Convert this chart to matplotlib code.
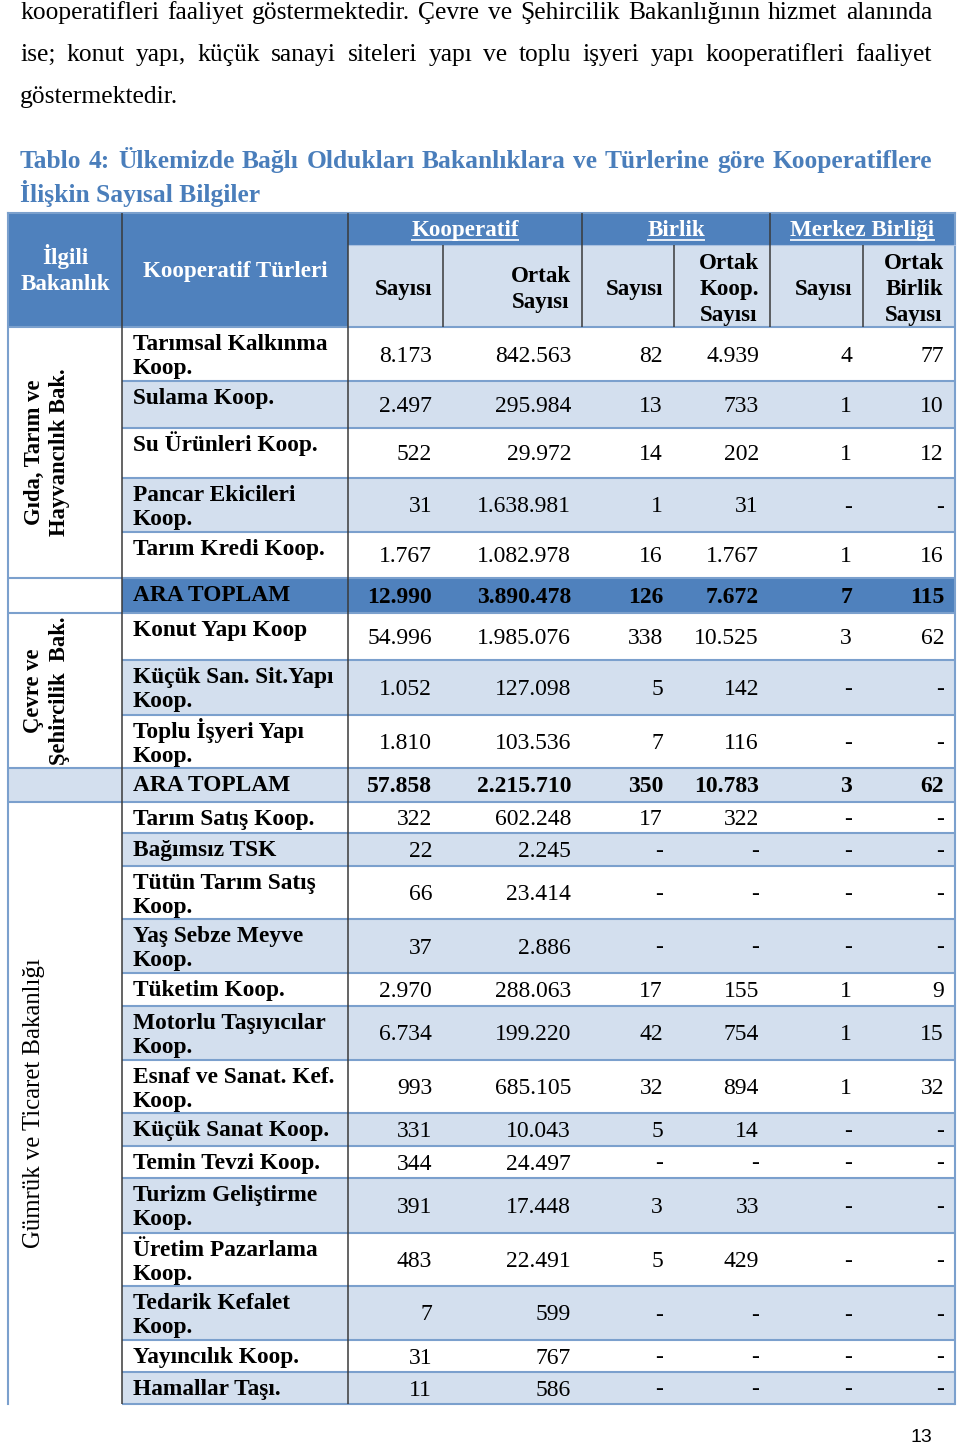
import matplotlib
matplotlib.use("Agg")
import matplotlib.pyplot as plt
from matplotlib.patches import Rectangle

# ------------------------------------------------------------------ data
intro_lines = [
    "kooperatifleri faaliyet göstermektedir. Çevre ve Şehircilik Bakanlığının hizmet alanında",
    "ise; konut yapı, küçük sanayi siteleri yapı ve toplu işyeri yapı kooperatifleri faaliyet",
    "göstermektedir.",
]
title_lines = [
    "Tablo 4: Ülkemizde Bağlı Oldukları Bakanlıklara ve Türlerine göre Kooperatiflere",
    "İlişkin Sayısal Bilgiler",
]
corner_headers = ["İlgili\nBakanlık", "Kooperatif Türleri"]
group_headers = ["Kooperatif", "Birlik", "Merkez Birliği"]
sub_headers = ["Sayısı", "Ortak\nSayısı", "Sayısı", "Ortak\nKoop.\nSayısı",
               "Sayısı", "Ortak\nBirlik\nSayısı"]
ministries = ["Gıda, Tarım ve\nHayvancılık Bak.",
              "Çevre ve\nŞehircilik  Bak.",
              "Gümrük ve Ticaret Bakanlığı"]

row_labels = [
    "Tarımsal Kalkınma\nKoop.", "Sulama Koop.", "Su Ürünleri Koop.",
    "Pancar Ekicileri\nKoop.", "Tarım Kredi Koop.", "ARA TOPLAM",
    "Konut Yapı Koop", "Küçük San. Sit.Yapı\nKoop.", "Toplu İşyeri Yapı\nKoop.",
    "ARA TOPLAM",
    "Tarım Satış Koop.", "Bağımsız TSK", "Tütün Tarım Satış\nKoop.",
    "Yaş Sebze Meyve\nKoop.", "Tüketim Koop.", "Motorlu Taşıyıcılar\nKoop.",
    "Esnaf ve Sanat. Kef.\nKoop.", "Küçük Sanat Koop.", "Temin Tevzi Koop.",
    "Turizm Geliştirme\nKoop.", "Üretim Pazarlama\nKoop.", "Tedarik Kefalet\nKoop.",
    "Yayıncılık Koop.", "Hamallar Taşı.",
]
koop_sayisi = ["8.173", "2.497", "522", "31", "1.767", "12.990",
               "54.996", "1.052", "1.810", "57.858",
               "322", "22", "66", "37", "2.970", "6.734", "993", "331", "344",
               "391", "483", "7", "31", "11"]
koop_ortak = ["842.563", "295.984", "29.972", "1.638.981", "1.082.978", "3.890.478",
              "1.985.076", "127.098", "103.536", "2.215.710",
              "602.248", "2.245", "23.414", "2.886", "288.063", "199.220", "685.105",
              "10.043", "24.497", "17.448", "22.491", "599", "767", "586"]
birlik_sayisi = ["82", "13", "14", "1", "16", "126",
                 "338", "5", "7", "350",
                 "17", "-", "-", "-", "17", "42", "32", "5", "-", "3", "5", "-", "-", "-"]
birlik_ortak = ["4.939", "733", "202", "31", "1.767", "7.672",
                "10.525", "142", "116", "10.783",
                "322", "-", "-", "-", "155", "754", "894", "14", "-", "33", "429", "-", "-", "-"]
merkez_sayisi = ["4", "1", "1", "-", "1", "7",
                 "3", "-", "-", "3",
                 "-", "-", "-", "-", "1", "1", "1", "-", "-", "-", "-", "-", "-", "-"]
merkez_ortak = ["77", "10", "12", "-", "16", "115",
                "62", "-", "-", "62",
                "-", "-", "-", "-", "9", "15", "32", "-", "-", "-", "-", "-", "-", "-"]
ministry_rows = [(0, 5), (6, 9), (10, 24)]   # row ranges of each ministry
subtotal_rows = [5, 9]
page_number = "13"

# ------------------------------------------------------------------ layout / style
W, H = 960, 1446
DARK = "#4F81BD"
LIGHT = "#D3DFEE"
GRID = "#7BA0CD"
VLINE = "#3A3A3A"
TITLE_C = "#4A7EBB"
SERIF = "Liberation Serif"

col_x = [8, 122, 348, 443, 582, 674, 770, 863, 955]
row_y = [327, 381, 428, 478, 532, 578, 613, 660, 715, 768, 802, 833, 866, 919,
         973, 1006, 1060, 1113, 1146, 1178, 1233, 1286, 1340, 1372, 1404]
hdr_top, hdr_mid, hdr_bot = 213, 245, 327
row_fill = ["W", "L", "W", "L", "W", "D", "W", "L", "W", "L",
            "W", "L", "W", "L", "W", "L", "W", "L", "W", "L", "W", "L", "W", "L"]
sub_col0_fill = {5: "W", 9: "L"}
FILL = {"W": "white", "L": LIGHT, "D": DARK}

fig = plt.figure(figsize=(W / 100, H / 100), dpi=100)
ax = fig.add_axes([0, 0, 1, 1])
ax.set_xlim(0, W)
ax.set_ylim(H, 0)
ax.axis("off")
renderer = fig.canvas.get_renderer()


def text_width(t):
    return t.get_window_extent(renderer=renderer).width


def justified(line, x0, x1, y, **kw):
    words = line.split(" ")
    arts = [ax.text(0, y, w, va="baseline", ha="left", **kw) for w in words]
    widths = [text_width(a) for a in arts]
    gap = (x1 - x0 - sum(widths)) / max(len(words) - 1, 1)
    x = x0
    for a, w in zip(arts, widths):
        a.set_x(x)
        x += w + gap


# ------------------------------------------------------------------ intro text
body_kw = dict(fontsize=18.4, family=SERIF, color="black")
for i, line in enumerate(intro_lines):
    yb = 19 + 42 * i
    if i < len(intro_lines) - 1:
        justified(line, 20, 932, yb, **body_kw)
    else:
        ax.text(20, yb, line, va="baseline", ha="left", **body_kw)

title_kw = dict(fontsize=18.4, family=SERIF, weight="bold", color=TITLE_C)
justified(title_lines[0], 20, 932, 168, **title_kw)
ax.text(20, 202, title_lines[1], va="baseline", ha="left", **title_kw)

# ------------------------------------------------------------------ header
ax.add_patch(Rectangle((col_x[0], hdr_top), col_x[2] - col_x[0], hdr_bot - hdr_top,
                       facecolor=DARK, edgecolor="none"))
ax.add_patch(Rectangle((col_x[2], hdr_top), col_x[8] - col_x[2], hdr_mid - hdr_top,
                       facecolor=DARK, edgecolor="none"))
ax.add_patch(Rectangle((col_x[2], hdr_mid), col_x[8] - col_x[2], hdr_bot - hdr_mid,
                       facecolor=LIGHT, edgecolor="none"))

hdr_kw = dict(fontsize=16.6, family=SERIF, weight="bold")
l0 = corner_headers[0].split("\n")
ax.text(65, 264, l0[0], ha="center", va="baseline", color="white", **hdr_kw)
ax.text(65, 290, l0[1], ha="center", va="baseline", color="white", **hdr_kw)
ax.text(235, 277, corner_headers[1], ha="center", va="baseline", color="white", **hdr_kw)

for g, name in enumerate(group_headers):
    xa, xb = col_x[2 + 2 * g], col_x[4 + 2 * g]
    t = ax.text((xa + xb) / 2, 236, name, ha="center", va="baseline", color="white", **hdr_kw)
    bb = t.get_window_extent(renderer=renderer)
    ax.plot([bb.x0, bb.x1], [239.5, 239.5], color="white", lw=1.2, solid_capstyle="butt")

for c, name in enumerate(sub_headers):
    xr = col_x[3 + c] - 11
    lines = name.split("\n")
    arts = [ax.text(0, 0, ln, ha="center", va="baseline", color="black", **hdr_kw)
            for ln in lines]
    maxw = max(text_width(a) for a in arts)
    centers = {1: [288], 2: [275, 301], 3: [262, 288, 314]}[len(lines)]
    for a, yc in zip(arts, centers):
        a.set_position((xr - maxw / 2, yc + 7))

# ------------------------------------------------------------------ body fills
for i in range(len(row_labels)):
    y0, y1 = row_y[i], row_y[i + 1]
    ax.add_patch(Rectangle((col_x[1], y0), col_x[8] - col_x[1], y1 - y0,
                           facecolor=FILL[row_fill[i]], edgecolor="none"))
    if i in sub_col0_fill:
        ax.add_patch(Rectangle((col_x[0], y0), col_x[1] - col_x[0], y1 - y0,
                               facecolor=FILL[sub_col0_fill[i]], edgecolor="none"))

# ------------------------------------------------------------------ grid lines
lw_grid = 1.5
for y in row_y:
    ax.plot([col_x[1], col_x[8]], [y, y], color=GRID, lw=lw_grid, solid_capstyle="butt")
for y in [hdr_bot, row_y[5], row_y[6], row_y[9], row_y[10]]:
    ax.plot([col_x[0], col_x[1]], [y, y], color=GRID, lw=lw_grid, solid_capstyle="butt")
ax.plot([col_x[0], col_x[8]], [hdr_top, hdr_top], color=GRID, lw=lw_grid)
ax.plot([col_x[0], col_x[0]], [hdr_top, row_y[-1]], color=GRID, lw=lw_grid)
ax.plot([col_x[8], col_x[8]], [hdr_top, row_y[-1]], color=GRID, lw=lw_grid)
ax.plot([col_x[2], col_x[8]], [hdr_mid, hdr_mid], color="#A9C0E0", lw=0.8)

for x in (col_x[1], col_x[2]):
    ax.plot([x, x], [hdr_top, row_y[-1]], color=VLINE, lw=1.1, solid_capstyle="butt")
for x in (col_x[4], col_x[6]):
    ax.plot([x, x], [hdr_top, hdr_bot], color=VLINE, lw=1.1, solid_capstyle="butt")
for x in (col_x[3], col_x[5], col_x[7]):
    ax.plot([x, x], [hdr_mid, hdr_bot], color=VLINE, lw=1.1, solid_capstyle="butt")

# ------------------------------------------------------------------ ministry labels
min_kw = dict(family=SERIF, rotation=90, ha="center", va="center", color="black")
for m, (a, b) in enumerate(ministry_rows):
    yc = (row_y[a] + row_y[b]) / 2
    lines = ministries[m].split("\n")
    if len(lines) == 1:
        ax.text(34, yc, lines[0], weight="normal", fontsize=17.8, **min_kw)
    else:
        for k, ln in enumerate(lines):
            ax.text(34 + 26 * k, yc, ln, weight="bold", fontsize=16.3, **min_kw)

# ------------------------------------------------------------------ row labels and values
lab_kw = dict(fontsize=16.8, family=SERIF, weight="bold", color="black")
columns = [koop_sayisi, koop_ortak, birlik_sayisi, birlik_ortak, merkez_sayisi, merkez_ortak]
for i, lab in enumerate(row_labels):
    y0, y1 = row_y[i], row_y[i + 1]
    bold = i in subtotal_rows
    for k, ln in enumerate(lab.split("\n")):
        ax.text(133, y0 + 23 + 24 * k, ln, ha="left", va="baseline", **lab_kw)
    yb = (y0 + y1) / 2 + 7.5
    for c, col in enumerate(columns):
        ax.text(col_x[3 + c] - 11, yb, col[i], ha="right", va="baseline",
                fontsize=17, family=SERIF, weight="bold" if bold else "normal",
                color="black")

ax.text(932, 1437, page_number, ha="right", va="center", fontsize=14,
        family="Liberation Sans", color="black")

fig.savefig("out.png", dpi=100)
